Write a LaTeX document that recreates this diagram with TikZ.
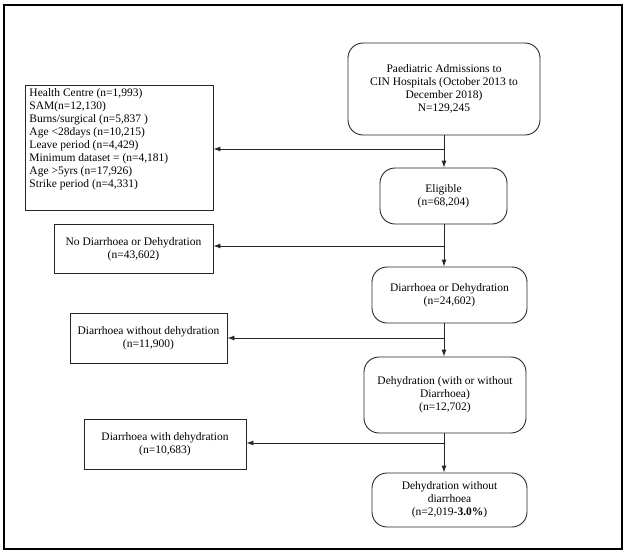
\documentclass[tikz,border=0pt]{standalone}
\usepackage{fontspec}
\setmainfont{Liberation Serif}
\usetikzlibrary{arrows.meta}
\tikzset{
  rbox/.style={draw=black!85, line width=0.9pt, rounded corners=15pt, align=center, inner sep=2pt},
  sbox/.style={draw=black!85, line width=0.9pt, align=center, inner sep=2pt},
  conn/.style={draw=black!85, line width=0.9pt, -{Latex[length=7pt,width=5pt]}},
}
\begin{document}
\begin{tikzpicture}[x=1pt,y=-1pt,font=\fontsize{11.5}{13}\selectfont]
\useasboundingbox (0,0) rectangle (625,552);
\draw[line width=2pt] (3.5,4.5) rectangle (621.5,548.5);
\coordinate (t) at (444,0);
\node[rbox, minimum width=192pt, minimum height=92pt] (box1) at (444,89)
  {Paediatric Admissions to\\ CIN Hospitals (October 2013 to\\ December 2018)\\ N=129,245};
\node[sbox, minimum width=188pt, minimum height=125pt] (excl) at (119,147.5)
  {\parbox[c][117pt][t]{179pt}{\raggedright
  Health Centre (n=1,993)\\
  SAM(n=12,130)\\
  Burns/surgical (n=5,837 )\\
  Age <28days (n=10,215)\\
  Leave period (n=4,429)\\
  Minimum dataset = (n=4,181)\\
  Age >5yrs (n=17,926)\\
  Strike period (n=4,331)}};
\node[rbox, minimum width=127pt, minimum height=56pt] (elig) at (443.5,196)
  {Eligible\\ (n=68,204)};
\node[sbox, minimum width=159pt, minimum height=49pt] (nod) at (133.5,249)
  {No Diarrhoea or Dehydration\\ (n=43,602)};
\node[rbox, minimum width=155pt, minimum height=56pt] (dord) at (449.5,295)
  {Diarrhoea or Dehydration\\ (n=24,602)};
\node[sbox, minimum width=157pt, minimum height=50pt] (dwod) at (148.5,338)
  {Diarrhoea without dehydration\\ (n=11,900)};
\node[rbox, minimum width=162pt, minimum height=76pt] (dehy) at (445,395)
  {Dehydration (with or without\\ Diarrhoea)\\ (n=12,702)};
\node[sbox, minimum width=162pt, minimum height=50pt] (dwd) at (165,444)
  {Diarrhoea with dehydration\\ (n=10,683)};
\node[rbox, minimum width=155pt, minimum height=54pt] (fin) at (449.5,500)
  {Dehydration without\\ diarrhoea\\ (n=2,019-\textbf{3.0\%})};
\coordinate (b1) at (444,149);
\coordinate (b2) at (444,246);
\coordinate (b3) at (444,338);
\coordinate (b4) at (444,443);
\draw[conn] (box1.south -| t) -- (elig.north -| t);
\draw[conn] (b1) -- (b1 -| excl.east);
\draw[conn] (elig.south -| t) -- (dord.north -| t);
\draw[conn] (b2) -- (b2 -| nod.east);
\draw[conn] (dord.south -| t) -- (dehy.north -| t);
\draw[conn] (b3) -- (b3 -| dwod.east);
\draw[conn] (dehy.south -| t) -- (fin.north -| t);
\draw[conn] (b4) -- (b4 -| dwd.east);
\end{tikzpicture}
\end{document}
